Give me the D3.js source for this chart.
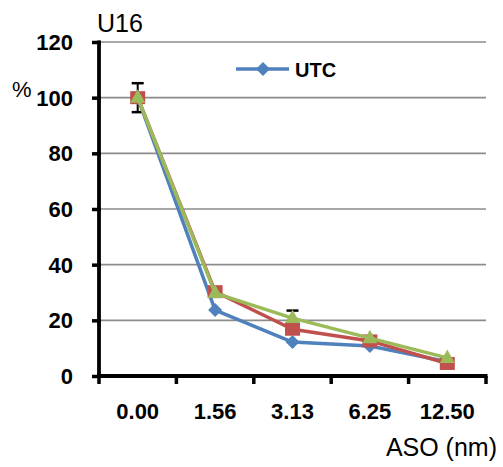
<!DOCTYPE html>
<html>
<head>
<meta charset="utf-8">
<script src="https://cdn.jsdelivr.net/npm/d3@7"></script>
<style>
  html, body { margin: 0; padding: 0; background: #fff; }
  svg { display: block; }
  text { font-family: "Liberation Sans", Arial, sans-serif; }
</style>
</head>
<body>
<svg id="chart" width="503" height="467"></svg>
<script>
const categories = ["0.00", "1.56", "3.13", "6.25", "12.50"];
const utcValues   = [100, 23.7, 12.2, 10.8, 5.1];
const redValues   = [100, 30.3, 16.8, 12.6, 4.5];
const greenValues = [100, 29.8, 20.8, 13.6, 6.5];
const utcErrors   = [0, 0, 0, 0, 0];
const redErrors   = [5.2, 0, 0, 0, 0];
const greenErrors = [0, 0, 2.7, 0, 0];
const yTicks = [0, 20, 40, 60, 80, 100, 120];
const seriesNames = ["UTC", "", ""];

const series = [
  { name: seriesNames[0], values: utcValues,   errors: utcErrors,   color: "#4F81BD", marker: "diamond" },
  { name: seriesNames[1], values: redValues,   errors: redErrors,   color: "#C0504D", marker: "square" },
  { name: seriesNames[2], values: greenValues, errors: greenErrors, color: "#9BBB59", marker: "triangle" }
];

const svg = d3.select("#chart");
const pL = 99, pR = 486, pT = 42, pB = 376;

const x = d3.scaleBand().domain(categories).range([pL, pR]);
const y = d3.scaleLinear().domain([0, 120]).range([pB, pT]);

// gridlines
svg.append("g").selectAll("line").data(yTicks.filter(d => d > 0)).join("line")
  .attr("x1", pL).attr("x2", pR)
  .attr("y1", d => y(d)).attr("y2", d => y(d))
  .attr("stroke", "#8c8c8c").attr("stroke-width", 1.6);

// y axis
const yAxis = svg.append("g").attr("transform", `translate(${pL},0)`)
  .call(d3.axisLeft(y).tickValues(yTicks).tickSize(0).tickPadding(0).tickFormat(d3.format("d")));
yAxis.select(".domain").remove();
yAxis.selectAll(".tick text").remove();
yAxis.selectAll(".tick line").attr("x1", -7).attr("x2", 2).attr("stroke", "#000").attr("stroke-width", 3.5);
yAxis.append("line").attr("x1", 0).attr("x2", 0).attr("y1", pT - 1.5).attr("y2", pB + 1.5)
  .attr("stroke", "#000").attr("stroke-width", 3.8);
svg.append("g").selectAll("text").data(yTicks).join("text")
  .attr("x", 73).attr("y", d => y(d)).attr("dy", "0.36em")
  .attr("text-anchor", "end")
  .attr("font-size", 22).attr("font-weight", "bold").attr("fill", "#000")
  .text(d => d);

// x axis
const xTickPos = categories.map(c => x(c)).concat([pR]);
svg.append("g").selectAll("line").data(xTickPos).join("line")
  .attr("x1", d => d).attr("x2", d => d).attr("y1", pB).attr("y2", pB + 8)
  .attr("stroke", "#000").attr("stroke-width", 3.5);
svg.append("line").attr("x1", pL - 1.5).attr("x2", pR + 1.5).attr("y1", pB).attr("y2", pB)
  .attr("stroke", "#000").attr("stroke-width", 3.8);
svg.append("g").selectAll("text").data(categories).join("text")
  .attr("x", d => x(d) + x.bandwidth() / 2).attr("y", 419)
  .attr("text-anchor", "middle")
  .attr("font-size", 22).attr("font-weight", "bold").attr("fill", "#000")
  .text(d => d);

// titles
svg.append("text").attr("x", 97).attr("y", 32).attr("font-size", 25).attr("fill", "#000").text("U16");
svg.append("text").attr("x", 12).attr("y", 97).attr("font-size", 22).attr("fill", "#000").text("%");
svg.append("text").attr("x", 497).attr("y", 456).attr("text-anchor", "end")
  .attr("font-size", 25).attr("fill", "#000").text("ASO (nm)");

// marker drawing
function drawMarker(g, type, cx, cy, color) {
  if (type === "diamond") {
    g.append("path").attr("d", `M${cx},${cy - 7}L${cx + 7},${cy}L${cx},${cy + 7}L${cx - 7},${cy}Z`)
      .attr("fill", color);
  } else if (type === "square") {
    g.append("rect").attr("x", cx - 7.5).attr("y", cy - 6.5).attr("width", 15).attr("height", 13)
      .attr("fill", color);
  } else {
    g.append("path").attr("d", `M${cx},${cy - 8.5}L${cx + 7.5},${cy + 5}L${cx - 7.5},${cy + 5}Z`)
      .attr("fill", color);
  }
}

const cx = i => x(categories[i]) + x.bandwidth() / 2;
const line = d3.line().x((d, i) => cx(i)).y(d => y(d));

// error bars
series.forEach(s => {
  const g = svg.append("g");
  s.errors.forEach((e, i) => {
    if (!e) return;
    const x0 = cx(i);
    g.append("line").attr("x1", x0).attr("x2", x0).attr("y1", y(s.values[i] + e)).attr("y2", y(s.values[i] - e))
      .attr("stroke", "#000").attr("stroke-width", 2);
    [s.values[i] + e, s.values[i] - e].forEach(v => {
      g.append("line").attr("x1", x0 - 6).attr("x2", x0 + 6).attr("y1", y(v)).attr("y2", y(v))
        .attr("stroke", "#000").attr("stroke-width", 2.5);
    });
  });
});

// series lines and markers
series.forEach(s => {
  const g = svg.append("g");
  g.append("path").datum(s.values).attr("d", line)
    .attr("fill", "none").attr("stroke", s.color).attr("stroke-width", 3.5).attr("stroke-linejoin", "round");
  s.values.forEach((v, i) => drawMarker(g, s.marker, cx(i), y(v), s.color));
});

// legend
const lg = svg.append("g");
lg.append("line").attr("x1", 236).attr("x2", 289).attr("y1", 69).attr("y2", 69)
  .attr("stroke", series[0].color).attr("stroke-width", 3.5);
drawMarker(lg, series[0].marker, 263, 69, series[0].color);
lg.append("text").attr("x", 295).attr("y", 77).attr("font-size", 20).attr("font-weight", "bold")
  .attr("fill", "#000").text(series[0].name);
</script>
</body>
</html>
